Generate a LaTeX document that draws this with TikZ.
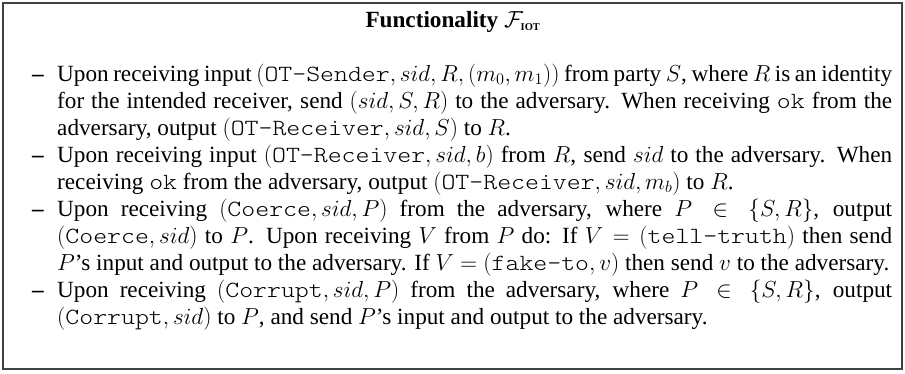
\RequirePackage{fix-cm}
\documentclass[tikz,border=0pt]{standalone}
\usepackage[no-math]{fontspec}
\setmainfont{Liberation Serif}
\IfFontExistsTF{lmmonolt10-regular.otf}
  {\setmonofont{lmmonolt10-regular.otf}[FakeStretch=1.143]}
  {\setmonofont{Liberation Mono}}
\newcommand\bodyfont{\fontsize{23.2}{27}\selectfont}
\newcommand\fl[1]{\makebox[835pt][s]{#1}}
\newcommand\subiot{\mbox{\fontsize{10.5}{11}\selectfont IOT}}
\begin{document}
\begin{tikzpicture}[x=1pt,y=-1pt,
  txt/.style={anchor=base west, inner sep=0pt, font=\bodyfont},
  bul/.style={anchor=base west, inner sep=0pt, font=\bodyfont\bfseries},
  frame/.style={line width=1.4pt, draw=black!75}]
\useasboundingbox (0,0) rectangle (905,373);
\draw[frame] (3,3) rectangle (902,369);
\node[anchor=base, inner sep=0pt, font=\bodyfont\bfseries] (title) at (453,27) {Functionality $\mathcal{F}_{\subiot}$};
% bullets
\node[bul] (d1) at (32,81) {\textendash};
\node[bul] (d2) at (32,162) {\textendash};
\node[bul] (d3) at (32,216) {\textendash};
\node[bul] (d4) at (32,297) {\textendash};
% lines
\node[txt] (l1) at (57,81) {\fl{Upon receiving input $(\texttt{OT-Sender}, sid, R, (m_0, m_1))$ from party $S$, where $R$ is an identity}};
\node[txt] (l2) at (57,108) {\fl{for the intended receiver, send $(sid, S, R)$ to the adversary. When receiving \texttt{ok} from the}};
\node[txt] (l3) at (57,135) {adversary, output $(\texttt{OT-Receiver}, sid, S)$ to $R$.};
\node[txt] (l4) at (57,162) {\fl{Upon receiving input $(\texttt{OT-Receiver}, sid, b)$ from $R$, send $sid$ to the adversary. When}};
\node[txt] (l5) at (57,189) {receiving \texttt{ok} from the adversary, output $(\texttt{OT-Receiver}, sid, m_b)$ to $R$.};
\node[txt] (l6) at (57,216) {\fl{Upon receiving $(\texttt{Coerce}, sid, P)$ from the adversary, where $P \in \{S, R\}$, output}};
\node[txt] (l7) at (57,243) {\fl{$(\texttt{Coerce}, sid)$ to $P$. Upon receiving $V$ from $P$ do: If $V = (\texttt{tell-truth})$ then send}};
\node[txt] (l8) at (57,270) {$P$'s input and output to the adversary. If $V = (\texttt{fake-to}, v)$ then send $v$ to the adversary.};
\node[txt] (l9) at (57,297) {\fl{Upon receiving $(\texttt{Corrupt}, sid, P)$ from the adversary, where $P \in \{S, R\}$, output}};
\node[txt] (l10) at (57,324) {$(\texttt{Corrupt}, sid)$ to $P$, and send $P$'s input and output to the adversary.};
\end{tikzpicture}
\end{document}
